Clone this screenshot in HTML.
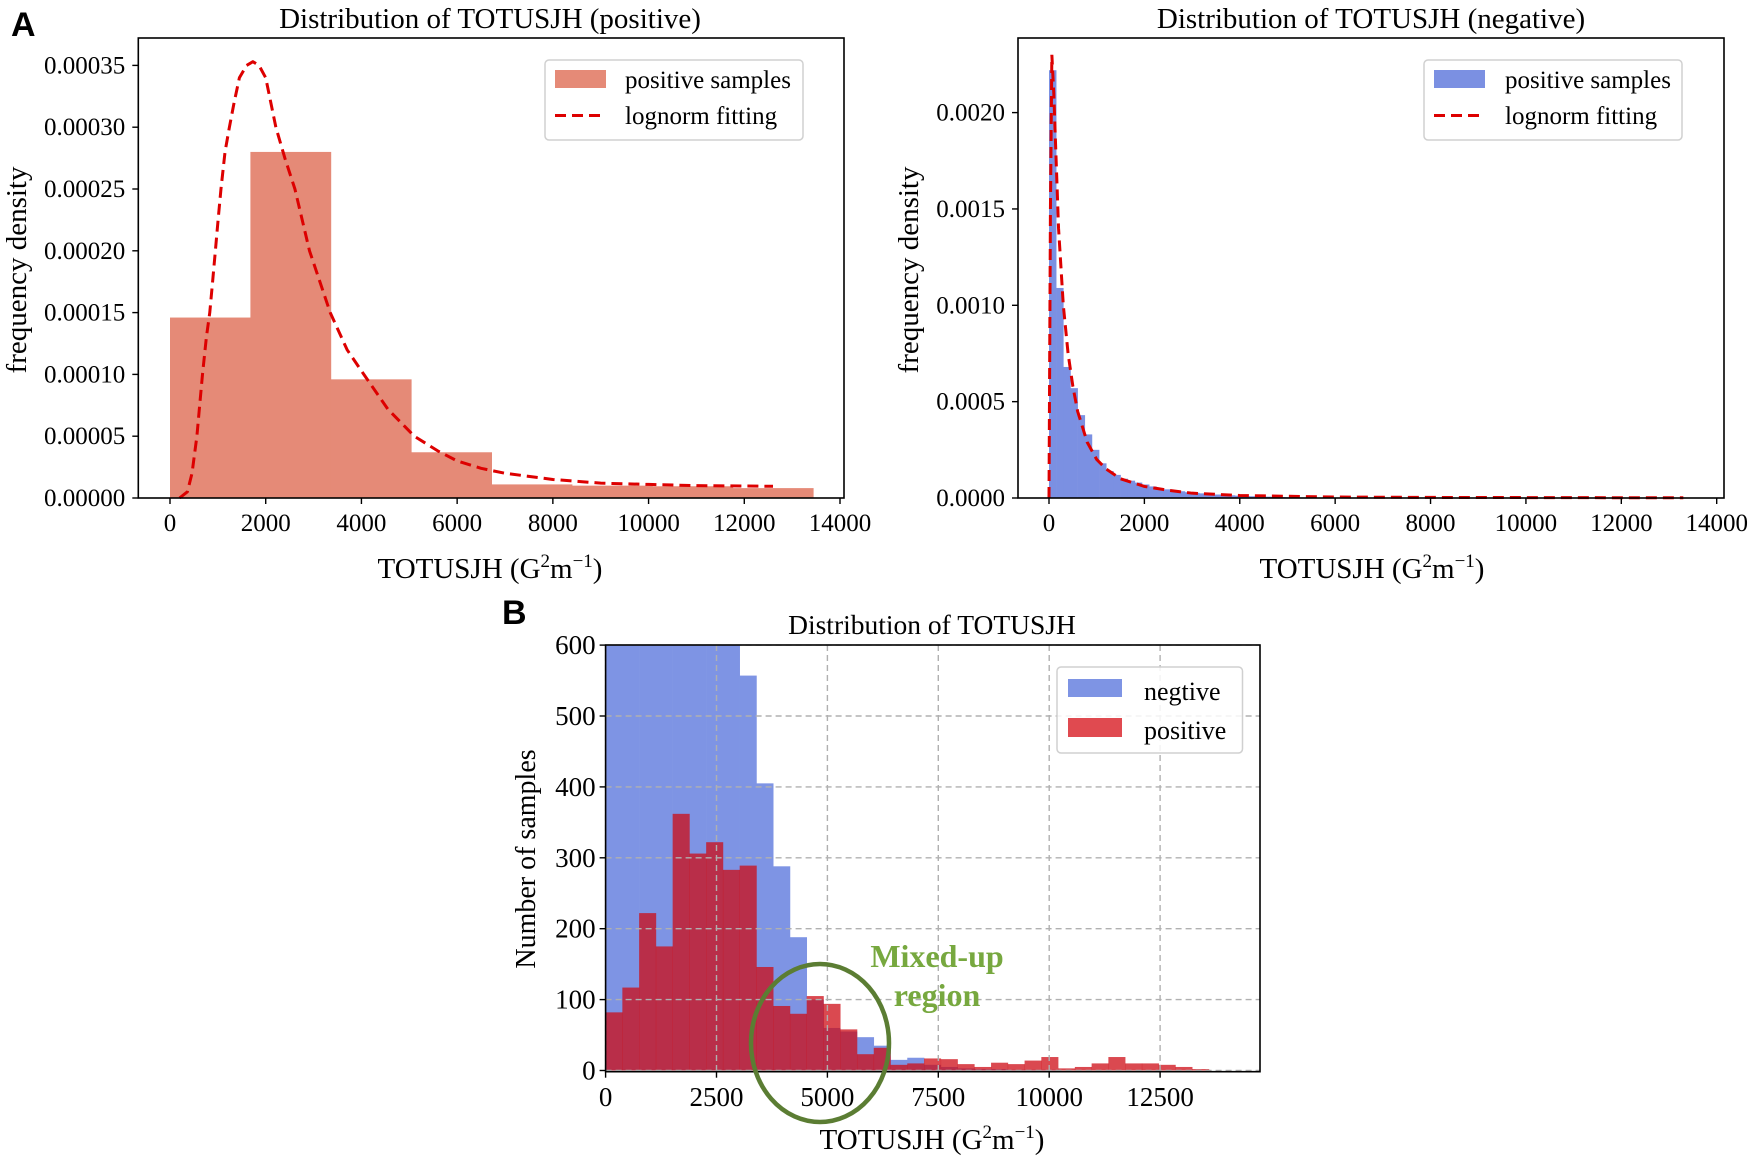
<!DOCTYPE html>
<html><head><meta charset="utf-8">
<style>
html,body{margin:0;padding:0;background:#fff;}
svg{display:block;font-family:"Liberation Serif",serif;}
</style></head>
<body>
<svg id="fig" width="1748" height="1156" viewBox="0 0 1748 1156" xmlns="http://www.w3.org/2000/svg">
<defs>
<clipPath id="clipB"><rect x="605.6" y="645" width="657.4" height="426.7"/></clipPath>
</defs>
<g id="gA1"></g>
<g id="gA2"></g>
<g id="gB"></g>
<text x="11" y="36" font-family="Liberation Sans, sans-serif" font-weight="bold" font-size="34">A</text>
<text x="502" y="624" font-family="Liberation Sans, sans-serif" font-weight="bold" font-size="34">B</text>
</svg>
<script>
// ---- Panel A (positive) data ----
const a1BinEdges = [0,1680,3360,5040,6720,8400,10080,11760,13440];
const a1Density = [0.000146,0.00028,0.000096,0.000037,0.000011,0.000010,0.0000095,0.000008];
const a1CurveX = [200,363,460,562,620,679,760,831,890,948,1005,1065,1150,1241,1340,1450,1600,1732,1860,2000,2212,2400,2610,2915,3348,3700,4050,4550,5104,5600,6000,6500,7000,8000,9000,10000,11000,12600];
const a1CurveY = [0,0.000005,0.00002,0.00005,0.000075,0.0001,0.00013,0.00015,0.000175,0.0002,0.000225,0.00025,0.00028,0.0003,0.00032,0.00034,0.00035,0.000353,0.00035,0.00034,0.0003,0.000275,0.00025,0.0002,0.00015,0.00012,0.0001,0.000072,0.00005,0.000038,0.00003,0.000024,0.00002,0.000015,0.000012,0.000011,0.00001,0.0000095];
const a1XTicks = [0,2000,4000,6000,8000,10000,12000,14000];
const a1YTicks = [0,0.00005,0.0001,0.00015,0.0002,0.00025,0.0003,0.00035];
const a1YTickLabels = ["0.00000","0.00005","0.00010","0.00015","0.00020","0.00025","0.00030","0.00035"];
// ---- Panel A (negative) data ----
const a2BinWidth = 150;
const a2Density = [0.00222,0.00109,0.00068,0.00057,0.00043,0.00033,0.00025,0.00018,0.00014,0.00012,0.00010,0.00009,0.00008,0.00007,0.00006,0.00005,0.000045,0.00004,0.000035,0.00003,0.000027,0.000024,0.000021,0.000018,0.000016,0.000014,0.000012,0.00001,0.000009,0.000008,0.000007,0.000006,0.000005,0.000004,0.000003,0.000003,0.000002,0.000002,0.000002,0.000002];
const a2CurveX = [0,30,60,100,200,300,400,500,600,800,1000,1200,1500,2000,2500,3000,4000,6000,8000,13300];
const a2CurveY = [0,0.0015,0.0023,0.0021,0.0014,0.001,0.00075,0.00058,0.00045,0.00029,0.0002,0.00015,0.0001,0.00006,0.00004,0.000025,0.000013,0.000005,0.000003,0.000001];
const a2XTicks = [0,2000,4000,6000,8000,10000,12000,14000];
const a2YTicks = [0,0.0005,0.001,0.0015,0.002];
const a2YTickLabels = ["0.0000","0.0005","0.0010","0.0015","0.0020"];
// ---- Panel B data ----
const bBinWidth = 377.8;
const bNegative = [760,900,980,950,900,840,760,640,557,405,288,188,100,60,55,47,35,15,18,8,5,3,2,2,1,1,1,0,0,0,0,0,0,0,0,0];
const bPositive = [82,117,222,175,362,306,322,283,289,146,91,80,105,94,58,23,32,8,10,17,16,9,5,11,9,14,19,3,5,10,19,10,10,8,5,2];
const bXTicks = [0,2500,5000,7500,10000,12500];
const bYTicks = [0,100,200,300,400,500,600];

const NS="http://www.w3.org/2000/svg";
function mk(parent,tag,attrs,text){const e=document.createElementNS(NS,tag);for(const k in attrs)e.setAttribute(k,attrs[k]);if(text!==undefined)e.textContent=text;parent.appendChild(e);return e;}
function fmtX(v){return String(v);}

function xlabel(g,cx,y){
  const t=mk(g,'text',{x:cx,y:y,'text-anchor':'middle','font-size':29});
  
  
  t.innerHTML='TOTUSJH (G<tspan dy="-11" font-size="19">2</tspan><tspan dy="11">m</tspan><tspan dy="-11" font-size="19">−1</tspan><tspan dy="11">)</tspan>';
}

// ---------- Panel A1 ----------
(function(){
  const g=document.getElementById('gA1');
  const L=138.3,R=844,T=38,B=498;
  const sx=v=>170+v*(670/14000), sy=v=>498-v*(61.8/0.00005);
  for(let i=0;i<a1Density.length;i++){
    const r=mk(g,'rect',{x:sx(a1BinEdges[i]),y:sy(a1Density[i]),width:sx(a1BinEdges[i+1])-sx(a1BinEdges[i])+0.4,height:B-sy(a1Density[i]),fill:'#e58a77'});
    
    
  }
  const p=mk(g,'polyline',{points:a1CurveX.map((x,i)=>sx(x)+','+sy(a1CurveY[i])).join(' '),fill:'none',stroke:'#dd0000','stroke-width':3,'stroke-dasharray':'11,6','stroke-linejoin':'round'});
  
  
  const f=mk(g,'rect',{x:L,y:T,width:R-L,height:B-T,fill:'none',stroke:'#000','stroke-width':1.6});
  
  
  a1XTicks.forEach(v=>{mk(g,'line',{x1:sx(v),x2:sx(v),y1:B,y2:B+6,stroke:'#000','stroke-width':1.4});
    const t=mk(g,'text',{x:sx(v),y:531,'text-anchor':'middle','font-size':25},fmtX(v));
    
    });
  a1YTicks.forEach((v,i)=>{mk(g,'line',{x1:L-6,x2:L,y1:sy(v),y2:sy(v),stroke:'#000','stroke-width':1.4});
    const t=mk(g,'text',{x:L-13,y:sy(v)+8,'text-anchor':'end','font-size':25},a1YTickLabels[i]);
    
    });
  const ti=mk(g,'text',{x:490,y:28,'text-anchor':'middle','font-size':29},'Distribution of TOTUSJH (positive)');
  
  
  xlabel(g,490,578);
  const yl=mk(g,'text',{x:0,y:0,'text-anchor':'middle','font-size':29,transform:'translate(26,270) rotate(-90)'},'frequency density');
  
  
  const lg=mk(g,'g',{});
  
  
  mk(lg,'rect',{x:545,y:60,width:258,height:80,rx:4,fill:'#fff',stroke:'#d0d0d0','stroke-width':1.5});
  mk(lg,'rect',{x:555,y:70,width:51,height:18,fill:'#e58a77'});
  mk(lg,'line',{x1:555,x2:606,y1:115.5,y2:115.5,stroke:'#dd0000','stroke-width':3,'stroke-dasharray':'11,6'});
  mk(lg,'text',{x:625,y:88,'font-size':25},'positive samples');
  mk(lg,'text',{x:625,y:124,'font-size':25},'lognorm fitting');
})();

// ---------- Panel A2 ----------
(function(){
  const g=document.getElementById('gA2');
  const L=1018,R=1724,T=38,B=498;
  const sx=v=>1049+v*(667.7/14000), sy=v=>498-v*(96.35/0.0005);
  for(let i=0;i<a2Density.length;i++){
    const x0=sx(i*a2BinWidth),x1=sx((i+1)*a2BinWidth);
    const r=mk(g,'rect',{x:x0,y:sy(a2Density[i]),width:x1-x0+0.3,height:B-sy(a2Density[i]),fill:'#7b90e2'});
    
    
  }
  const p=mk(g,'polyline',{points:a2CurveX.map((x,i)=>sx(x)+','+sy(a2CurveY[i])).join(' '),fill:'none',stroke:'#dd0000','stroke-width':3,'stroke-dasharray':'11,6'});
  
  
  const f=mk(g,'rect',{x:L,y:T,width:R-L,height:B-T,fill:'none',stroke:'#000','stroke-width':1.6});
  
  
  a2XTicks.forEach(v=>{mk(g,'line',{x1:sx(v),x2:sx(v),y1:B,y2:B+6,stroke:'#000','stroke-width':1.4});
    const t=mk(g,'text',{x:sx(v),y:531,'text-anchor':'middle','font-size':25},fmtX(v));
    
    });
  a2YTicks.forEach((v,i)=>{mk(g,'line',{x1:L-6,x2:L,y1:sy(v),y2:sy(v),stroke:'#000','stroke-width':1.4});
    const t=mk(g,'text',{x:L-13,y:sy(v)+8,'text-anchor':'end','font-size':25},a2YTickLabels[i]);
    
    });
  const ti=mk(g,'text',{x:1371,y:28,'text-anchor':'middle','font-size':29},'Distribution of TOTUSJH (negative)');
  
  
  xlabel(g,1372,578);
  const yl=mk(g,'text',{x:0,y:0,'text-anchor':'middle','font-size':29,transform:'translate(918,270) rotate(-90)'},'frequency density');
  
  
  const lg=mk(g,'g',{});
  
  
  mk(lg,'rect',{x:1424,y:60,width:258,height:80,rx:4,fill:'#fff',stroke:'#d0d0d0','stroke-width':1.5});
  mk(lg,'rect',{x:1434,y:70,width:51,height:18,fill:'#7b90e2'});
  mk(lg,'line',{x1:1434,x2:1485,y1:115.5,y2:115.5,stroke:'#dd0000','stroke-width':3,'stroke-dasharray':'11,6'});
  mk(lg,'text',{x:1505,y:88,'font-size':25},'positive samples');
  mk(lg,'text',{x:1505,y:124,'font-size':25},'lognorm fitting');
})();

// ---------- Panel B ----------
(function(){
  const g=document.getElementById('gB');
  const L=605.6,R=1260,T=645,B=1071.7;
  const sx=v=>605.6+v*(110.9/2500), sy=v=>1070.5-v*(70.9/100);
  const bars=mk(g,'g',{'clip-path':'url(#clipB)'});
  bNegative.forEach((v,i)=>{
    const x0=sx(i*bBinWidth),x1=sx((i+1)*bBinWidth);
    const r=mk(bars,'rect',{x:x0,y:sy(v),width:x1-x0+0.3,height:1070.5-sy(v),fill:'#7e94e4'});
    
    
  });
  bPositive.forEach((v,i)=>{
    const x0=sx(i*bBinWidth),x1=sx((i+1)*bBinWidth);
    const r=mk(bars,'rect',{x:x0,y:sy(v),width:x1-x0+0.3,height:1070.5-sy(v),fill:'rgb(205,12,22)','fill-opacity':0.75});
    
    
  });
  bXTicks.forEach(v=>{const l=mk(g,'line',{x1:sx(v),x2:sx(v),y1:T,y2:B,stroke:'#b0b0b0','stroke-width':1.4,'stroke-dasharray':'6,4'});
    
    });
  bYTicks.forEach(v=>{const l=mk(g,'line',{x1:L,x2:R,y1:sy(v),y2:sy(v),stroke:'#b0b0b0','stroke-width':1.4,'stroke-dasharray':'6,4'});
    
    });
  const f=mk(g,'rect',{x:L,y:T,width:R-L,height:B-T,fill:'none',stroke:'#000','stroke-width':1.6});
  
  
  bXTicks.forEach(v=>{mk(g,'line',{x1:sx(v),x2:sx(v),y1:B,y2:B+6,stroke:'#000','stroke-width':1.4});
    const t=mk(g,'text',{x:sx(v),y:1106,'text-anchor':'middle','font-size':27},fmtX(v));
    
    });
  bYTicks.forEach(v=>{mk(g,'line',{x1:L-6,x2:L,y1:sy(v),y2:sy(v),stroke:'#000','stroke-width':1.4});
    const t=mk(g,'text',{x:L-10,y:sy(v)+9,'text-anchor':'end','font-size':27},String(v));
    
    });
  const ti=mk(g,'text',{x:932,y:634,'text-anchor':'middle','font-size':27.5},'Distribution of TOTUSJH');
  
  
  xlabel(g,932,1149);
  const yl=mk(g,'text',{x:0,y:0,'text-anchor':'middle','font-size':28,transform:'translate(535,859) rotate(-90)'},'Number of samples');
  
  
  const lg=mk(g,'g',{});
  
  
  mk(lg,'rect',{x:1057,y:667,width:185.5,height:86,rx:4,fill:'#fff','fill-opacity':0.85,stroke:'#d0d0d0','stroke-width':1.5});
  mk(lg,'rect',{x:1068,y:679,width:54,height:18,fill:'#7e94e4'});
  mk(lg,'rect',{x:1068,y:718,width:54,height:19,fill:'#e04a50'});
  mk(lg,'text',{x:1144,y:700,'font-size':26},'negtive');
  mk(lg,'text',{x:1144,y:739,'font-size':26},'positive');
  const el=mk(g,'ellipse',{cx:820,cy:1043,rx:69,ry:79,fill:'none',stroke:'#5b7d33','stroke-width':4.5});
  
  
  const a1=mk(g,'text',{x:937,y:967,'text-anchor':'middle','font-size':32,'font-weight':'bold',fill:'#77a83f'},'Mixed-up');
  
  
  const a2=mk(g,'text',{x:937,y:1006,'text-anchor':'middle','font-size':32,'font-weight':'bold',fill:'#77a83f'},'region');
  
  
})();
</script>
</body></html>
